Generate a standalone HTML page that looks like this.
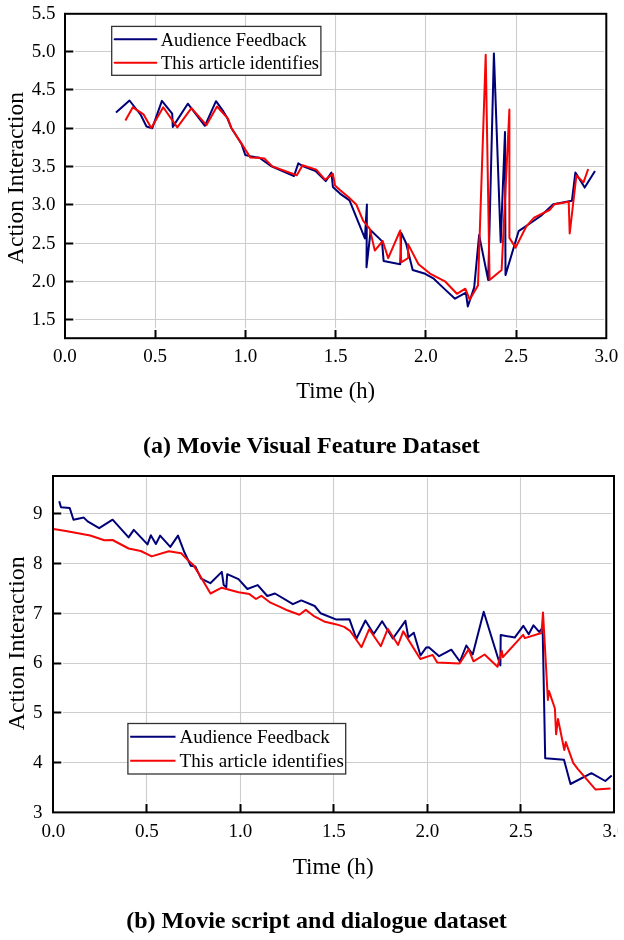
<!DOCTYPE html><html><head><meta charset="utf-8"><style>html,body{margin:0;padding:0;background:#fff;}svg{display:block;will-change:transform;}text{font-family:"Liberation Serif",serif;fill:#000;}</style></head><body>
<svg width="624" height="940" viewBox="0 0 624 940">
<defs><clipPath id="clipR"><rect x="0" y="0" width="617.3" height="940"/></clipPath></defs>
<rect width="624" height="940" fill="#fff"/>
<path d="M155.5 15.3V328.2M245.5 15.3V328.2M335.5 15.3V328.2M425.5 15.3V328.2M516.5 15.3V328.2M75 319.5H604.0M75 281.5H604.0M75 243.5H604.0M75 204.5H604.0M75 166.5H604.0M75 128.5H604.0M75 89.5H604.0M75 51.5H604.0" stroke="#cdcdcd" stroke-width="1.1" fill="none"/>
<polyline points="116.0,112.4 129.5,100.5 140.8,115.0 146.5,126.5 152.3,128.2 161.9,100.9 172.2,113.7 172.8,126.9 187.8,103.7 204.9,125.8 216.0,101.2 223.5,111.7 227.3,118.1 231.2,127.7 241.4,143.7 245.3,155.0 250.4,156.3 259.4,157.8 270.9,166.0 294.0,176.0 298.3,163.4 302.6,166.0 315.6,171.0 325.7,181.1 331.4,172.6 332.9,186.9 340.0,193.6 349.5,200.4 364.9,238.4 366.9,204.5 366.5,267.3 370.7,230.2 382.0,241.1 383.6,260.9 400.2,264.2 401.3,232.9 406.0,243.0 412.7,270.0 425.2,273.8 433.8,278.7 442.8,287.4 455.0,298.7 465.9,292.6 467.8,306.4 474.2,287.4 479.1,235.1 488.2,280.1 493.9,53.4 500.7,242.1 505.0,131.9 505.5,275.1 518.6,231.2 532.8,221.5 541.8,215.1 553.3,204.2 571.9,200.8 575.4,172.4 584.7,187.6 595.0,170.9" fill="none" stroke="#000078" stroke-width="2.0" stroke-linejoin="round"/>
<polyline points="125.4,120.5 132.8,107.3 143.6,114.4 151.3,128.1 163.2,107.3 177.3,127.4 191.4,108.1 206.5,125.1 217.0,106.5 228.0,118.7 231.2,127.7 242.0,144.4 250.4,157.6 258.0,157.8 264.4,158.5 272.3,166.4 296.8,175.3 302.6,165.2 316.3,169.6 325.0,179.7 332.9,173.9 335.0,185.4 340.0,190.0 348.6,197.2 356.3,204.5 363.1,220.7 369.8,228.9 374.8,250.6 382.7,241.0 388.2,258.1 400.2,230.5 401.2,262.3 408.2,258.0 407.9,243.9 418.5,264.2 430.0,273.6 445.4,281.7 456.9,293.8 465.3,288.7 469.7,299.6 478.0,285.5 485.7,54.7 489.6,280.1 501.6,270.0 509.4,109.6 509.4,237.9 515.6,247.6 526.1,226.7 534.1,217.7 549.5,210.0 554.6,204.2 568.7,201.7 569.7,233.5 576.4,175.4 583.5,182.4 588.2,169.0" fill="none" stroke="#f50505" stroke-width="2.0" stroke-linejoin="round"/>
<rect x="111.7" y="26.4" width="209.2" height="48.9" fill="#fff" stroke="#333" stroke-width="1.3"/>
<line x1="114.6" y1="39.3" x2="156.4" y2="39.3" stroke="#000078" stroke-width="2.0" stroke-linecap="round"/>
<line x1="114.6" y1="62.7" x2="156.4" y2="62.7" stroke="#f50505" stroke-width="2.0" stroke-linecap="round"/>
<text x="160.8" y="45.6" font-size="18.4">Audience Feedback</text>
<text x="161" y="68.5" font-size="18.4" letter-spacing="0.08">This article identifies</text>
<rect x="65" y="13.8" width="541.3" height="324.4" fill="none" stroke="#000" stroke-width="2"/>
<path d="M155.5 338.2v-8.3M245.5 338.2v-8.3M335.5 338.2v-8.3M425.5 338.2v-8.3M516.5 338.2v-8.3M65 319.5h8.3M65 281.5h8.3M65 243.5h8.3M65 204.5h8.3M65 166.5h8.3M65 128.5h8.3M65 89.5h8.3M65 51.5h8.3" stroke="#000" stroke-width="2" fill="none"/>
<text x="64.8" y="361.9" font-size="19" text-anchor="middle">0.0</text>
<text x="155.1" y="361.9" font-size="19" text-anchor="middle">0.5</text>
<text x="245.3" y="361.9" font-size="19" text-anchor="middle">1.0</text>
<text x="335.6" y="361.9" font-size="19" text-anchor="middle">1.5</text>
<text x="425.9" y="361.9" font-size="19" text-anchor="middle">2.0</text>
<text x="516.1" y="361.9" font-size="19" text-anchor="middle">2.5</text>
<text x="606.4" y="361.9" font-size="19" text-anchor="middle">3.0</text>
<text x="55.5" y="325.2" font-size="19" text-anchor="end">1.5</text>
<text x="55.5" y="286.9" font-size="19" text-anchor="end">2.0</text>
<text x="55.5" y="248.6" font-size="19" text-anchor="end">2.5</text>
<text x="55.5" y="210.3" font-size="19" text-anchor="end">3.0</text>
<text x="55.5" y="172.0" font-size="19" text-anchor="end">3.5</text>
<text x="55.5" y="133.7" font-size="19" text-anchor="end">4.0</text>
<text x="55.5" y="95.4" font-size="19" text-anchor="end">4.5</text>
<text x="55.5" y="57.1" font-size="19" text-anchor="end">5.0</text>
<text x="55.5" y="18.8" font-size="19" text-anchor="end">5.5</text>
<text x="335.7" y="397.7" font-size="22.6" text-anchor="middle">Time (h)</text>
<text transform="translate(22.8,178) rotate(-90)" font-size="23.55" text-anchor="middle">Action Interaction</text>
<text x="311.4" y="452.9" font-size="24" font-weight="bold" text-anchor="middle">(a) Movie Visual Feature Dataset</text>
<path d="M146.5 477.5V802.4M240.5 477.5V802.4M333.5 477.5V802.4M427.5 477.5V802.4M520.5 477.5V802.4M63 762.5H611.7M63 712.5H611.7M63 663.5H611.7M63 613.5H611.7M63 563.5H611.7M63 513.5H611.7" stroke="#cdcdcd" stroke-width="1.1" fill="none"/>
<polyline points="59.2,501.3 61.0,507.3 69.7,508.0 73.5,519.7 83.8,517.6 87.6,521.4 99.2,528.2 112.6,519.7 128.6,537.4 133.8,529.9 147.5,544.4 150.8,535.3 155.9,544.0 160.1,535.6 170.3,546.9 178.0,535.6 184.4,552.3 190.8,565.8 195.3,566.4 201.1,578.6 210.3,583.2 221.8,571.9 223.7,585.1 226.3,587.3 227.2,574.2 238.5,579.1 247.4,589.0 257.7,585.1 267.3,596.0 275.0,593.5 292.9,604.2 301.3,600.4 314.7,606.0 320.5,613.2 336.5,619.6 349.4,619.2 356.4,638.8 365.4,620.5 373.7,634.0 382.1,621.2 392.9,638.5 405.4,620.8 408.3,637.2 413.8,632.7 420.5,655.5 426.3,647.4 428.8,647.2 439.1,656.2 451.3,649.7 459.9,661.5 466.3,645.5 472.7,654.5 483.7,611.8 498.3,659.0 500.4,665.4 500.7,635.0 514.7,637.6 523.3,625.8 528.7,634.2 533.5,625.3 539.2,631.9 542.1,628.4 542.8,635.7 545.2,758.3 564.0,759.8 570.5,784.0 591.4,773.2 605.3,781.0 611.7,775.5" fill="none" stroke="#000078" stroke-width="2.0" stroke-linejoin="round"/>
<polyline points="53.5,529.1 65.8,531.0 90.2,535.5 104.3,540.3 112.6,540.0 128.6,548.5 140.8,551.0 151.7,556.4 168.8,551.3 181.2,553.3 188.3,560.6 193.4,565.1 201.1,577.5 210.5,593.5 221.8,587.7 238.5,592.2 249.4,594.1 256.0,599.0 261.3,595.8 270.5,602.7 280.0,606.9 287.2,610.3 299.4,614.7 305.8,609.9 313.5,615.8 325.0,621.8 336.5,624.4 344.2,626.9 350.0,630.8 361.5,647.2 369.2,629.2 380.8,646.2 387.8,628.8 398.1,645.0 403.2,631.4 420.3,659.0 432.7,654.9 437.2,662.6 459.6,663.5 468.6,649.4 473.5,661.3 484.6,654.5 497.5,666.7 501.8,650.8 502.9,657.2 523.1,634.8 524.8,638.1 541.5,633.0 543.0,612.6 547.9,700.0 548.9,690.9 554.9,708.5 556.1,734.3 558.0,719.0 564.3,750.0 565.8,742.1 573.2,762.8 577.7,768.8 595.6,789.6 610.5,788.4" fill="none" stroke="#f50505" stroke-width="2.0" stroke-linejoin="round"/>
<rect x="127.9" y="723.5" width="217.8" height="50.5" fill="#fff" stroke="#333" stroke-width="1.3"/>
<line x1="130.2" y1="736.7" x2="175.5" y2="736.7" stroke="#000078" stroke-width="2.0"/>
<line x1="130.2" y1="760.8" x2="175.5" y2="760.8" stroke="#f50505" stroke-width="2.0"/>
<text x="179.5" y="742.9" font-size="19">Audience Feedback</text>
<text x="179.5" y="767" font-size="19" letter-spacing="0.13">This article identifies</text>
<rect x="53" y="476" width="561" height="336.4" fill="none" stroke="#000" stroke-width="2"/>
<path d="M146.5 812.4v-8.3M240.5 812.4v-8.3M333.5 812.4v-8.3M427.5 812.4v-8.3M520.5 812.4v-8.3M53 762.5h8.3M53 712.5h8.3M53 663.5h8.3M53 613.5h8.3M53 563.5h8.3M53 513.5h8.3" stroke="#000" stroke-width="2" fill="none"/>
<text x="53.3" y="836.5" font-size="19" text-anchor="middle">0.0</text>
<text x="146.8" y="836.5" font-size="19" text-anchor="middle">0.5</text>
<text x="240.3" y="836.5" font-size="19" text-anchor="middle">1.0</text>
<text x="333.8" y="836.5" font-size="19" text-anchor="middle">1.5</text>
<text x="427.3" y="836.5" font-size="19" text-anchor="middle">2.0</text>
<text x="520.8" y="836.5" font-size="19" text-anchor="middle">2.5</text>
<text x="614.3" y="836.5" font-size="19" text-anchor="middle" clip-path="url(#clipR)">3.0</text>
<text x="42.5" y="817.9" font-size="19" text-anchor="end">3</text>
<text x="42.5" y="768.1" font-size="19" text-anchor="end">4</text>
<text x="42.5" y="718.3" font-size="19" text-anchor="end">5</text>
<text x="42.5" y="668.4" font-size="19" text-anchor="end">6</text>
<text x="42.5" y="618.6" font-size="19" text-anchor="end">7</text>
<text x="42.5" y="568.8" font-size="19" text-anchor="end">8</text>
<text x="42.5" y="519.0" font-size="19" text-anchor="end">9</text>
<text x="333.2" y="873.7" font-size="23.2" text-anchor="middle">Time (h)</text>
<text transform="translate(24.3,643.3) rotate(-90)" font-size="23.8" text-anchor="middle">Action Interaction</text>
<text x="316.5" y="928" font-size="24" font-weight="bold" text-anchor="middle">(b) Movie script and dialogue dataset</text>
</svg></body></html>
